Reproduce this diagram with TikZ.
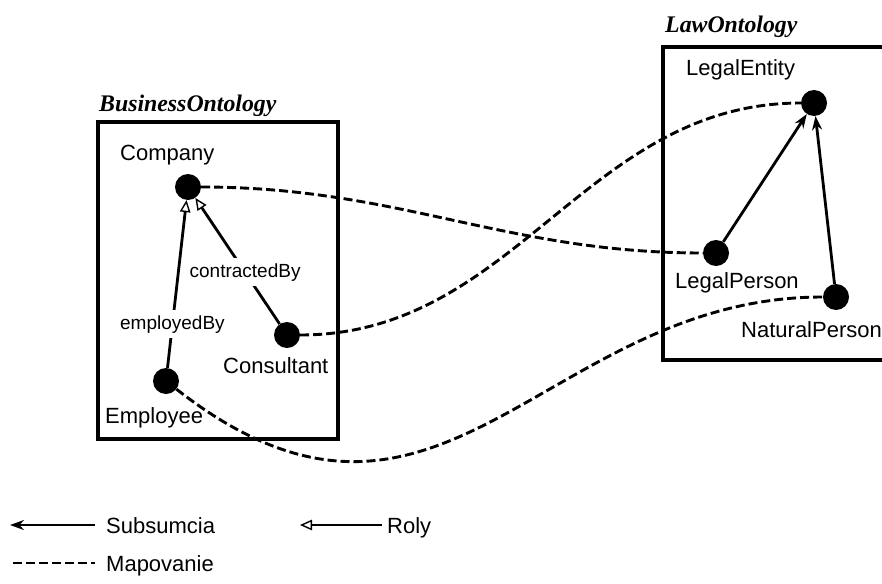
\documentclass[tikz,border=0pt]{standalone}
\usepackage{fontspec}
\setmainfont{Liberation Sans}
\newfontfamily\titlefont{Liberation Serif}
\usetikzlibrary{arrows.meta}
\begin{document}
\begin{tikzpicture}[x=1pt,y=-1pt,
  concept/.style={circle,fill=black,minimum size=26pt,inner sep=0pt},
  txt/.style={anchor=base west,inner sep=0pt,font=\fontsize{22}{26}\selectfont},
  title/.style={anchor=base west,inner sep=0pt,font=\titlefont\bfseries\itshape\fontsize{23.8}{28}\selectfont},
  frame/.style={line width=3.6pt},
  sub/.style={line width=2.8pt,-{Stealth[length=14pt,width=10pt]}},
  role/.style={line width=2.8pt,-{Triangle[open,length=12pt,width=10.5pt,line width=1.4pt]}},
  map/.style={line width=2.9pt,dash pattern=on 9pt off 4pt},
  lbl/.style={fill=white,inner xsep=1pt,inner ysep=5pt,font=\fontsize{19}{23}\selectfont}]
\useasboundingbox (0,0) rectangle (882,583);
\clip (0,0) rectangle (882,583);

% ontology frames
\draw[frame] (98,122) rectangle (338,439);
\draw[frame] (663,47) rectangle (900,360);
\node[title] (tb) at (99,111) {BusinessOntology};
\node[title] (tl) at (665,33) {LawOntology};

% concepts
\node[concept] (comp) at (188,187) {};
\node[concept] (cons) at (287,335) {};
\node[concept] (emp)  at (166,381) {};
\node[concept] (lent) at (814,103) {};
\node[concept] (lper) at (716,253) {};
\node[concept] (nper) at (836,297) {};

\node[txt] (tcomp) at (120,160) {Company};
\node[txt] (tcons) at (223,373) {Consultant};
\node[txt] (temp)  at (105,423) {Employee};
\node[txt] (tlent) at (686,76)  {LegalEntity};
\node[txt] (tlper) at (675,288) {LegalPerson};
\node[txt] (tnper) at (741,337) {NaturalPerson};

% roles
\draw[role] (emp) -- node[lbl,pos=0.26] (lemp) {employedBy} (comp);
\draw[role] (cons) -- node[lbl,pos=0.41] (lcons) {contractedBy} (comp);

% subsumption
\draw[sub] (lper) -- (lent);
\draw[sub] (nper) -- (lent);

% mappings
\draw[map] (comp) to[out=0,in=180] (lper);
\draw[map] (cons) to[out=0,in=180] (lent);
\draw[map] (emp) .. controls (440,595) and (543,297) .. (nper);

% legend
\coordinate (s0) at (10,525);
\coordinate (s1) at (95,525);
\coordinate (r0) at (300,525);
\coordinate (r1) at (382,525);
\coordinate (m0) at (13,563);
\coordinate (m1) at (95,563);
\draw[sub] (s1) -- (s0);
\draw[role] (r1) -- (r0);
\draw[map] (m0) -- (m1);
\node[txt] (ts) at (106,533) {Subsumcia};
\node[txt] (tr) at (387,533) {Roly};
\node[txt] (tm) at (106,571) {Mapovanie};
\end{tikzpicture}
\end{document}
